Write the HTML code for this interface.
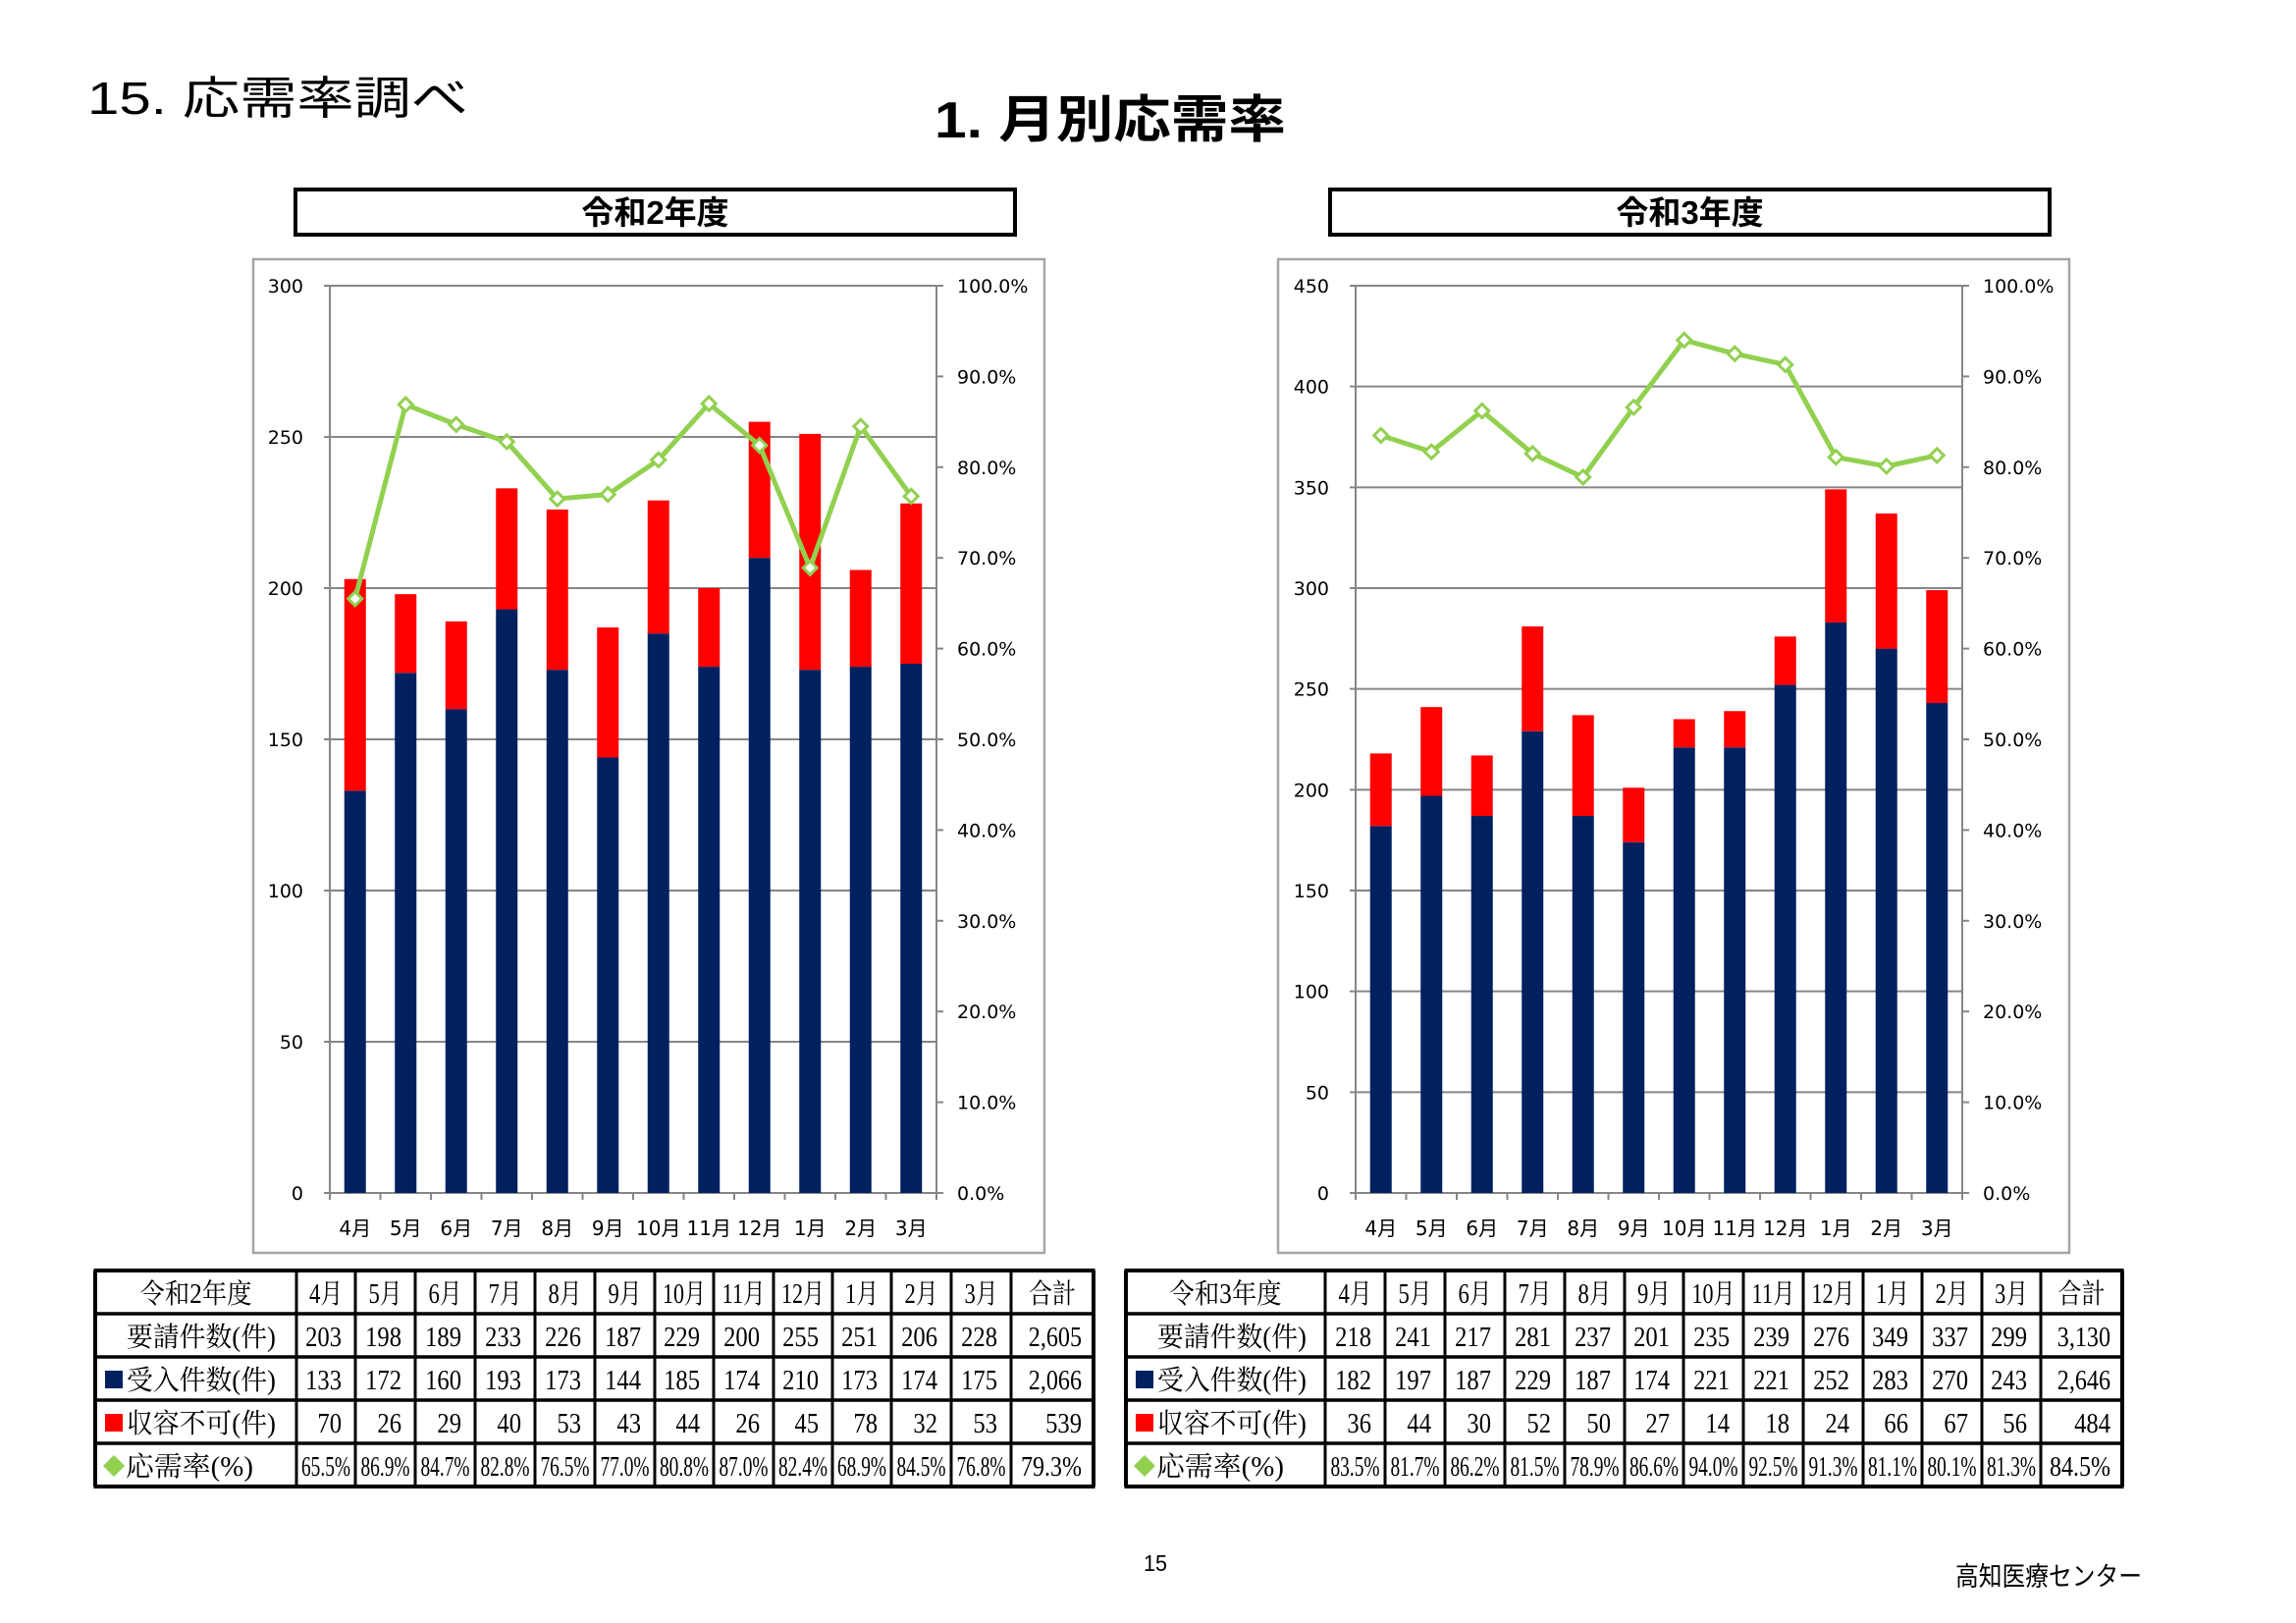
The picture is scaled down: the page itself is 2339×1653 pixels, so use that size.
<!DOCTYPE html>
<html><head><meta charset="utf-8">
<style>
html,body{margin:0;padding:0;background:#fff;}
svg{display:block;}
</style></head>
<body>
<svg id="s" xmlns="http://www.w3.org/2000/svg" width="2339" height="1653" viewBox="0 0 2339 1653">
<rect width="2339" height="1653" fill="#fff"/>
<g font-family="'Liberation Sans','Noto Sans CJK JP',sans-serif" fill="#000">
<text x="89" y="116" font-size="46" textLength="388" lengthAdjust="spacingAndGlyphs">15. 応需率調べ</text>
<text x="952" y="140" font-size="52" font-weight="bold" textLength="358" lengthAdjust="spacingAndGlyphs">1. 月別応需率</text>
<text x="1165" y="1600" font-size="23" textLength="24" lengthAdjust="spacingAndGlyphs">15</text>
<text x="1992" y="1615" font-size="27" textLength="190" lengthAdjust="spacingAndGlyphs">高知医療センター</text>
</g>
<g id="charts"></g>
<g id="tables"></g>
</svg>
<script>
(function(){
var NS="http://www.w3.org/2000/svg";
function el(p,t,a,txt){var e=document.createElementNS(NS,t);for(var k in a)e.setAttribute(k,a[k]);if(txt!==undefined)e.textContent=txt;p.appendChild(e);return e;}
var months=["4月","5月","6月","7月","8月","9月","10月","11月","12月","1月","2月","3月"];
var D=[
 {title:"令和2年度",name:"令和2年度",req:[203,198,189,233,226,187,229,200,255,251,206,228],acc:[133,172,160,193,173,144,185,174,210,173,174,175],rej:[70,26,29,40,53,43,44,26,45,78,32,53],
  pct:[65.5,86.9,84.7,82.8,76.5,77.0,80.8,87.0,82.4,68.9,84.5,76.8],tot:["2,605","2,066","539","79.3%"],
  box:[301,193,733,46],frame:[258,264,806,1012],pl:336,pr:954,max:300,step:50,
  cols:[97,302,362,423,484,545,606,667,727,788,848,908,969,1030,1114]},
 {title:"令和3年度",name:"令和3年度",req:[218,241,217,281,237,201,235,239,276,349,337,299],acc:[182,197,187,229,187,174,221,221,252,283,270,243],rej:[36,44,30,52,50,27,14,18,24,66,67,56],
  pct:[83.5,81.7,86.2,81.5,78.9,86.6,94.0,92.5,91.3,81.1,80.1,81.3],tot:["3,130","2,646","484","84.5%"],
  box:[1355,193,733,46],frame:[1302,264,806,1012],pl:1381,pr:1999,max:450,step:50,
  cols:[1147,1350,1411,1472,1533,1594,1655,1715,1776,1837,1898,1958,2019,2079,2162]}
];
var C=document.getElementById("charts"),T=document.getElementById("tables");
var Y0=291,Y1=1215,H=Y1-Y0;
D.forEach(function(d){
  var b=d.box;
  el(C,"rect",{x:b[0],y:b[1],width:b[2],height:b[3],fill:"#fff",stroke:"#000","stroke-width":4});
  el(C,"text",{x:b[0]+b[2]/2,y:b[1]+35,"font-size":33,"font-weight":"bold","text-anchor":"middle","font-family":"'Liberation Sans','Noto Sans CJK JP',sans-serif"},d.title);
  var f=d.frame;
  el(C,"rect",{x:f[0],y:f[1],width:f[2],height:f[3],fill:"#fff",stroke:"#a6a6a6","stroke-width":2.5});
  var g=el(C,"g",{"font-family":"'DejaVu Sans','Liberation Sans','Noto Sans CJK JP',sans-serif","font-size":19,fill:"#000"});
  var n=d.max/d.step;
  for(var i=0;i<=n;i++){
    var y=Y1-H*i/n;
    el(g,"line",{x1:d.pl-6,x2:d.pr,y1:y,y2:y,stroke:"#868686","stroke-width":2});
    el(g,"text",{x:d.pl-27,y:y+7,"text-anchor":"end"},String(i*d.step));
  }
  for(var i=0;i<=10;i++){
    var y=Y1-H*i/10;
    el(g,"line",{x1:d.pr,x2:d.pr+7,y1:y,y2:y,stroke:"#868686","stroke-width":2});
    el(g,"text",{x:d.pr+21,y:y+7},(i*10).toFixed(1)+"%");
  }
  el(g,"line",{x1:d.pl,x2:d.pl,y1:Y0,y2:Y1,stroke:"#868686","stroke-width":2});
  el(g,"line",{x1:d.pr,x2:d.pr,y1:Y0,y2:Y1,stroke:"#868686","stroke-width":2});
  var cw=(d.pr-d.pl)/12,sc=H/d.max;
  for(var i=0;i<=12;i++){var x=d.pl+cw*i;el(g,"line",{x1:x,x2:x,y1:Y1,y2:Y1+7,stroke:"#868686","stroke-width":2});}
  var pts=[];
  for(var i=0;i<12;i++){
    var cx=d.pl+cw*(i+0.5);
    var ha=d.acc[i]*sc,hr=d.rej[i]*sc;
    el(g,"rect",{x:cx-11,y:Y1-ha,width:22,height:ha,fill:"#002060"});
    el(g,"rect",{x:cx-11,y:Y1-ha-hr,width:22,height:hr,fill:"#ff0000"});
    el(g,"text",{x:cx,y:Y1+43,"text-anchor":"middle","font-size":20},months[i]);
    pts.push([cx,Y1-H*d.pct[i]/100]);
  }
  el(g,"polyline",{points:pts.map(function(p){return p[0]+","+p[1]}).join(" "),fill:"none",stroke:"#92d050","stroke-width":5,"stroke-linejoin":"round"});
  pts.forEach(function(p){
    var r=7,x=p[0],y=p[1];
    el(g,"polygon",{points:x+","+(y-r)+" "+(x+r)+","+y+" "+x+","+(y+r)+" "+(x-r)+","+y,fill:"#fff",stroke:"#92d050","stroke-width":3});
  });
  var cols=d.cols,rows=[1294,1338,1382,1426,1470,1514];
  var tg=el(T,"g",{"font-family":"'Liberation Serif','Noto Serif CJK SC',serif","font-size":28,fill:"#000"});
  el(tg,"rect",{x:cols[0],y:rows[0],width:cols[14]-cols[0],height:rows[5]-rows[0],fill:"#fff"});
  function ctext(x,y,s,anchor,len){var a={x:x,y:y,"text-anchor":anchor};if(len){a.textLength=len;a.lengthAdjust="spacingAndGlyphs";}el(tg,"text",a,s);}
  function numLen(s){var l=0;for(var i=0;i<s.length;i++){l+=(s[i]==","||s[i]==".")?5:12.3;}return l;}
  ctext((cols[0]+cols[1])/2,rows[0]+33,d.name,"middle",114);
  for(var i=0;i<12;i++){ctext((cols[i+1]+cols[i+2])/2,rows[0]+33,months[i],"middle",months[i].length>2?44:34);}
  ctext((cols[13]+cols[14])/2,rows[0]+33,"合計","middle",48);
  var labels=["要請件数(件)","受入件数(件)","収容不可(件)","応需率(%)"];
  var data=[d.req,d.acc,d.rej,d.pct];
  for(var r=0;r<4;r++){
    var by=rows[r+1]+33;
    if(r==1)el(tg,"rect",{x:cols[0]+10,y:rows[r+1]+14,width:18,height:18,fill:"#002060"});
    if(r==2)el(tg,"rect",{x:cols[0]+10,y:rows[r+1]+14,width:18,height:18,fill:"#ff0000"});
    if(r==3){var cx=cols[0]+19,cy=rows[r+1]+23;el(tg,"polygon",{points:(cx)+","+(cy-11)+" "+(cx+11)+","+cy+" "+cx+","+(cy+11)+" "+(cx-11)+","+cy,fill:"#92d050"});}
    ctext(cols[0]+(r==3?31:32),by,labels[r],"start",r==3?130:152);
    for(var i=0;i<12;i++){
      if(r==3)ctext((cols[i+1]+cols[i+2])/2,by,data[r][i].toFixed(1)+"%","middle",50);
      else {var s=String(data[r][i]);ctext(cols[i+2]-14,by,s,"end",numLen(s));}
    }
    ctext(cols[14]-12,by,d.tot[r],"end",r==3?62:numLen(d.tot[r]));
  }
  rows.forEach(function(y,k){el(tg,"line",{x1:cols[0]-1.5,x2:cols[14]+1.5,y1:y,y2:y,stroke:"#000","stroke-width":(k==0||k==5)?4:3.5});});
  cols.forEach(function(x,k){el(tg,"line",{x1:x,x2:x,y1:rows[0],y2:rows[5],stroke:"#000","stroke-width":(k==0||k==14)?4:3});});
});
})();
</script>
</body></html>
